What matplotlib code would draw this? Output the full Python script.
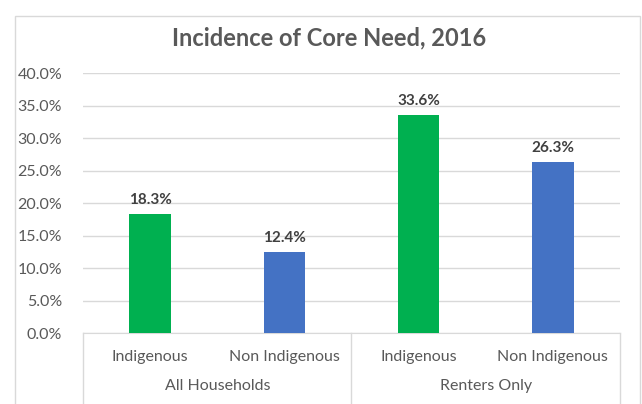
import matplotlib
matplotlib.use("Agg")
import matplotlib.pyplot as plt
from matplotlib.patches import Rectangle
from matplotlib.ticker import PercentFormatter
import matplotlib.transforms as mtransforms

# data
categories = ["Indigenous", "Non Indigenous", "Indigenous", "Non Indigenous"]
groups = ["All Households", "Renters Only"]
values = [18.3, 12.4, 33.6, 26.3]
colors = ["#00B050", "#4472C4", "#00B050", "#4472C4"]

plt.rcParams['font.family'] = ['Lato', 'DejaVu Sans']
text_color = "#595959"
grid_color = "#D9D9D9"

fig = plt.figure(figsize=(6.42, 4.04), dpi=100)
ax = fig.add_axes([0.1293, 0.1757, 0.8364, 0.6436])

x = list(range(len(values)))
bars = ax.bar(x, values, width=0.31, color=colors, zorder=3)

for xi, v in zip(x, values):
    ax.annotate(f"{v:.1f}%", (xi, v), xytext=(0, 5), textcoords="offset points",
                ha="center", va="bottom", fontsize=11, fontweight="bold",
                color="#404040")

ax.set_xlim(-0.5, len(values) - 0.5)
ax.set_ylim(0, 40)
ax.set_yticks([0, 5, 10, 15, 20, 25, 30, 35, 40])
ax.yaxis.set_major_formatter(PercentFormatter(decimals=1))
ax.grid(axis="y", color=grid_color, linewidth=1, zorder=0)
ax.tick_params(axis="y", length=0, labelsize=11.5, labelcolor=text_color, pad=15)
ax.tick_params(axis="x", length=0, labelsize=11.5, labelcolor=text_color, pad=12)
ax.set_xticks(x)
ax.set_xticklabels(categories)
for side in ["top", "right", "left"]:
    ax.spines[side].set_visible(False)
ax.spines["bottom"].set_color(grid_color)

# group labels and separators under the category axis
trans = mtransforms.blended_transform_factory(ax.transData, ax.transAxes)
for i, g in enumerate(groups):
    ax.text(2 * i + 0.5, -0.205, g, transform=trans, ha="center", va="center",
            fontsize=11.5, color=text_color)
for sx in [-0.5, 1.5, 3.5]:
    ax.plot([sx, sx], [0, -0.27], transform=trans, color=grid_color,
            linewidth=1, clip_on=False)

fig.suptitle("Incidence of Core Need, 2016", x=0.512, y=0.935, fontsize=17,
             fontweight="bold", color=text_color)

fig.patches.append(Rectangle((15 / 642, -0.05), 625 / 642, 1.03 - 8 / 404,
                             transform=fig.transFigure, fill=False,
                             edgecolor=grid_color, linewidth=1))

fig.savefig("out.png", dpi=100)
